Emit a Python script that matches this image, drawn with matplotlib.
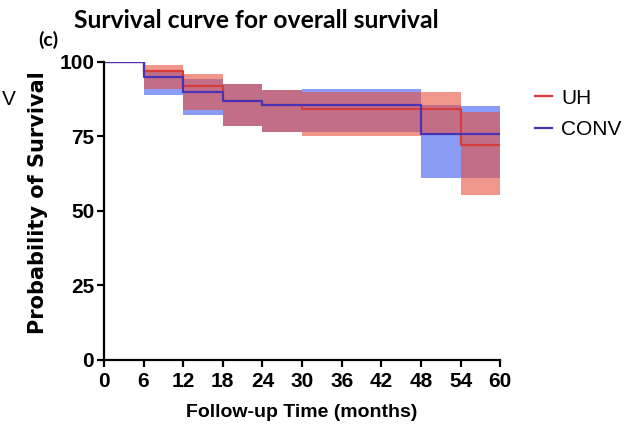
import numpy as np
import matplotlib
matplotlib.use("Agg")
import matplotlib.pyplot as plt

# Kaplan-Meier steps (months) and survival (%)
months = [0, 6, 12, 18, 24, 30, 48, 54, 60]
uh_surv = [100, 97, 92, 86.7, 85.5, 84, 84, 72, 72]
uh_upper = [100, 99, 96, 92.5, 90.6, 90, 90, 83.3, 83.3]
uh_lower = [100, 90.8, 83.9, 78.3, 76.3, 75, 75.5, 55.4, 55.4]
conv_surv = [100, 95, 90, 86.7, 85.5, 85.5, 75.8, 75.8, 75.8]
conv_upper = [100, 97.3, 94.2, 92.5, 90.6, 91, 85.6, 85.3, 85.3]
conv_lower = [100, 88.7, 82.2, 78.3, 76.3, 76.6, 61, 61, 61]

x_ticks = [0, 6, 12, 18, 24, 30, 36, 42, 48, 54, 60]
y_ticks = [0, 25, 50, 75, 100]

plt.rcParams['font.family'] = ['Liberation Sans', 'DejaVu Sans']

fig = plt.figure(figsize=(6.26, 4.32), dpi=100)
ax = fig.add_axes([0.166, 0.167, 0.633, 0.690])

# blue band first, red band on top -> mauve where they overlap
ax.fill_between(months, conv_lower, conv_upper, step='post', color='#3c5af0',
                alpha=0.6, linewidth=0)
ax.fill_between(months, uh_lower, uh_upper, step='post', color='#e6503c',
                alpha=0.6, linewidth=0)
ax.step(months, uh_surv, where='post', color='#d63c3c', lw=1.6, label='UH')
ax.step(months, conv_surv, where='post', color='#4a32b4', lw=1.6, label='CONV')

ax.set_xlim(0, 60)
ax.set_ylim(0, 100)
ax.set_xticks(x_ticks)
ax.set_yticks(y_ticks)
for s in ['top', 'right']:
    ax.spines[s].set_visible(False)
for s in ['left', 'bottom']:
    ax.spines[s].set_linewidth(1.6)
ax.tick_params(width=1.6, length=5, labelsize=15)
ax.tick_params(axis='x', pad=4)
ax.tick_params(axis='y', pad=2)
for lab in ax.get_xticklabels() + ax.get_yticklabels():
    lab.set_fontweight('bold')

ax.set_xlabel('Follow-up Time (months)', fontsize=14, fontweight='bold', labelpad=9)
ax.set_ylabel('Probability of Survival', fontsize=15, fontweight='bold',
              family='DejaVu Sans')
ax.yaxis.set_label_coords(-0.142, 0.527)

leg = ax.legend(loc='upper left', bbox_to_anchor=(1.088, 0.91), frameon=False,
                fontsize=15, handlelength=0.8, handletextpad=0.45, labelspacing=0.6,
                borderpad=0, borderaxespad=0)

fig.text(0.061, 0.908, '(c)', fontsize=14, fontweight='bold', family='Lato', va='center')
fig.text(0.118, 0.953, 'Survival curve for overall survival', fontsize=17.8,
         fontweight='bold', family='Lato', va='center')
fig.text(0.003, 0.77, 'V', fontsize=15, va='center')

fig.savefig('out.png', dpi=100)
